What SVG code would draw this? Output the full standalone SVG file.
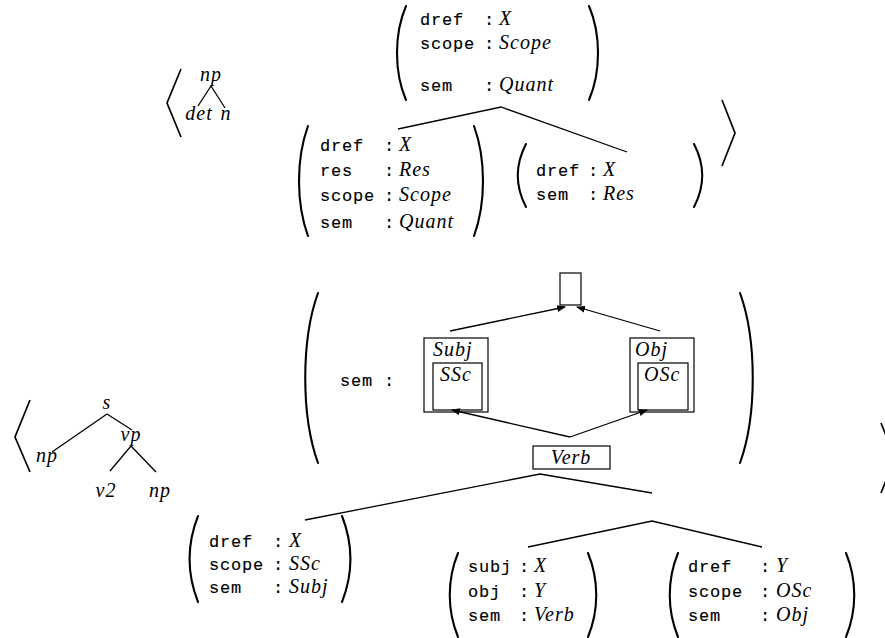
<svg xmlns="http://www.w3.org/2000/svg" width="885" height="638" viewBox="0 0 885 638">
<defs>
<style>
.tt{font-family:"Liberation Mono","DejaVu Sans Mono",monospace;font-size:17px;letter-spacing:0.8px;fill:#000;stroke:#000;stroke-width:0.15}
.it{font-family:"Liberation Serif","DejaVu Serif",serif;font-style:italic;font-size:20px;letter-spacing:1px;fill:#000}
.ln{stroke:#000;stroke-width:1.3;fill:none}
.par{stroke:#000;stroke-width:2.1;fill:none;stroke-linecap:round}
.ang{stroke:#000;stroke-width:1.7;fill:none}
.box{stroke:#000;stroke-width:1.2;fill:none}
.mid{text-anchor:middle}
</style>
<marker id="ah" markerUnits="userSpaceOnUse" markerWidth="9" markerHeight="7" refX="8" refY="3.5" orient="auto">
<path d="M0,0 L9,3.5 L0,7 z" fill="#000"/>
</marker>
</defs>
<rect width="885" height="638" fill="#fff"/>

<g id="tree-np">
<polyline class="ang" points="181,69 167,103 181,137"/>
<text class="it mid" x="211" y="81">np</text>
<path class="ln" d="M211,86 L198,106 M211,86 L225,108"/>
<text class="it mid" x="199" y="120">det</text>
<text class="it mid" x="226" y="120">n</text>
<polyline class="ang" points="722,100 735,133 722,166"/>
</g>

<g id="avm-root">
<path class="par" d="M406,6 C394,34 394,72 406,100"/>
<text class="tt" x="420" y="25">dref</text><text class="tt" x="484" y="25">:</text><text class="it" x="499" y="25">X</text>
<text class="tt" x="420" y="49">scope</text><text class="tt" x="484" y="49">:</text><text class="it" x="499" y="49">Scope</text>
<text class="tt" x="420" y="91">sem</text><text class="tt" x="484" y="91">:</text><text class="it" x="499" y="91">Quant</text>
<path class="par" d="M589,6 C601,34 601,72 589,100"/>
</g>

<g id="avm-quant">
<path class="par" d="M308,126 C296,159 296,203 308,236"/>
<text class="tt" x="320" y="151">dref</text><text class="tt" x="384" y="151">:</text><text class="it" x="399" y="151">X</text>
<text class="tt" x="320" y="176">res</text><text class="tt" x="384" y="176">:</text><text class="it" x="399" y="176">Res</text>
<text class="tt" x="320" y="201">scope</text><text class="tt" x="384" y="201">:</text><text class="it" x="399" y="201">Scope</text>
<text class="tt" x="320" y="228">sem</text><text class="tt" x="384" y="228">:</text><text class="it" x="399" y="228">Quant</text>
<path class="par" d="M474,126 C486,159 486,203 474,236"/>
</g>

<g id="avm-res">
<path class="par" d="M526,144 C515,165 515,186 526,207"/>
<text class="tt" x="536" y="176">dref</text><text class="tt" x="588" y="176">:</text><text class="it" x="603" y="176">X</text>
<text class="tt" x="536" y="200">sem</text><text class="tt" x="588" y="200">:</text><text class="it" x="603" y="200">Res</text>
<path class="par" d="M694,144 C705,165 705,186 694,207"/>
</g>

<g id="tree-s">
<polyline class="ang" points="30,400 15,437 30,472"/>
<text class="it mid" x="107" y="409">s</text>
<path class="ln" d="M107,414 L52,452 M107,414 L132,430"/>
<text class="it mid" x="131" y="441">vp</text>
<text class="it mid" x="47" y="462">np</text>
<path class="ln" d="M131,446 L110,471 M131,446 L156,472"/>
<text class="it mid" x="106" y="497">v2</text>
<text class="it mid" x="160" y="497">np</text>
<polyline class="ang" points="881,423 895,458 881,493"/>
</g>

<g id="avm-sem">
<path class="par" d="M318,293 C301,340 301,416 318,463"/>
<text class="tt" x="340" y="386">sem</text><text class="tt" x="384" y="386">:</text>
<path class="par" d="M740,293 C757,340 757,416 740,463"/>
</g>

<g id="box-top">
<rect class="box" x="560" y="273" width="21" height="32"/>
</g>
<g id="box-subj">
<rect class="box" x="424" y="338" width="64" height="74"/>
<text class="it" x="433" y="356">Subj</text>
<rect class="box" x="433" y="363" width="49" height="47"/>
<text class="it" x="440" y="381">SSc</text>
</g>
<g id="box-obj">
<rect class="box" x="630" y="338" width="64" height="74"/>
<text class="it" x="635" y="356">Obj</text>
<rect class="box" x="638" y="363" width="50" height="47"/>
<text class="it" x="644" y="381">OSc</text>
</g>
<g id="box-verb">
<rect class="box" x="533" y="446" width="77" height="23"/>
<text class="it mid" x="571" y="464">Verb</text>
</g>

<g id="avm-subj">
<path class="par" d="M198,516 C187,544 187,574 198,602"/>
<text class="tt" x="209" y="547">dref</text><text class="tt" x="273" y="547">:</text><text class="it" x="289" y="547">X</text>
<text class="tt" x="209" y="570">scope</text><text class="tt" x="273" y="570">:</text><text class="it" x="289" y="570">SSc</text>
<text class="tt" x="209" y="593">sem</text><text class="tt" x="273" y="593">:</text><text class="it" x="289" y="593">Subj</text>
<path class="par" d="M342,516 C353,544 353,574 342,602"/>
</g>

<g id="avm-verb">
<path class="par" d="M458,553 C447,580 447,610 458,637"/>
<text class="tt" x="468" y="572">subj</text><text class="tt" x="519" y="572">:</text><text class="it" x="534" y="572">X</text>
<text class="tt" x="468" y="597">obj</text><text class="tt" x="519" y="597">:</text><text class="it" x="534" y="597">Y</text>
<text class="tt" x="468" y="621">sem</text><text class="tt" x="519" y="621">:</text><text class="it" x="534" y="621">Verb</text>
<path class="par" d="M588,553 C599,580 599,610 588,637"/>
</g>

<g id="avm-obj">
<path class="par" d="M678,553 C667,580 667,610 678,637"/>
<text class="tt" x="688" y="572">dref</text><text class="tt" x="760" y="572">:</text><text class="it" x="776" y="572">Y</text>
<text class="tt" x="688" y="597">scope</text><text class="tt" x="760" y="597">:</text><text class="it" x="776" y="597">OSc</text>
<text class="tt" x="688" y="621">sem</text><text class="tt" x="760" y="621">:</text><text class="it" x="776" y="621">Obj</text>
<path class="par" d="M846,553 C857,580 857,610 846,637"/>
</g>

<g id="connectors">
<path class="ln" d="M398,129 L501,107 L627,152"/>
<path class="ln" d="M450,331 L565,307" marker-end="url(#ah)"/>
<path class="ln" d="M660,331 L577,307" marker-end="url(#ah)"/>
<path class="ln" d="M570,437 L452,410" marker-end="url(#ah)"/>
<path class="ln" d="M570,437 L647,410" marker-end="url(#ah)"/>
<path class="ln" d="M305,520 L540,474 L652,493"/>
<path class="ln" d="M528,547 L652,521 L762,547"/>
</g>
</svg>
